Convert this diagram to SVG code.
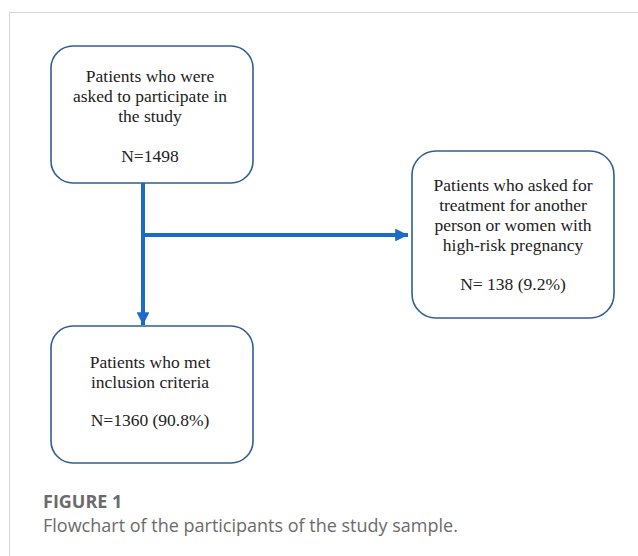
<svg xmlns="http://www.w3.org/2000/svg" width="638" height="556" viewBox="0 0 638 556">
<style>
.box{fill:#fff;stroke:#2f5f96;stroke-width:1.6}
.t{font-family:"Liberation Serif","Times New Roman",serif;font-size:17.5px;fill:#222;text-anchor:middle}
.c{stroke:#1a6cc8;stroke-width:4;fill:none}
.cap{font-family:"Open Sans","Noto Sans",sans-serif;fill:#6b6b6b}
</style>
<defs>
<marker id="ah" viewBox="0 0 10 10" refX="10" refY="5" markerWidth="3.2" markerHeight="3.2" orient="auto" markerUnits="strokeWidth">
<path d="M0,0L10,5L0,10z" fill="#1a6cc8"/>
</marker>
</defs>
<rect width="638" height="556" fill="#fff"/>
<path d="M9.5,556V12.5H638" fill="none" stroke="#d6d6d6" stroke-width="1"/>
<g id="connectors">
<path class="c" d="M143,183V325" marker-end="url(#ah)"/>
<path class="c" d="M143,235H408" marker-end="url(#ah)"/>
</g>
<g id="n1">
<rect class="box" x="51" y="46" width="202" height="137" rx="22"/>
<text class="t" x="150" y="82">Patients who were</text>
<text class="t" x="150" y="102">asked to participate in</text>
<text class="t" x="150" y="122">the study</text>
<text class="t" x="150" y="162">N=1498</text>
</g>
<g id="n2">
<rect class="box" x="412" y="151" width="202" height="167" rx="24"/>
<text class="t" x="513" y="191">Patients who asked for</text>
<text class="t" x="513" y="211">treatment for another</text>
<text class="t" x="513" y="231">person or women with</text>
<text class="t" x="513" y="251">high-risk pregnancy</text>
<text class="t" x="513" y="290">N= 138 (9.2%)</text>
</g>
<g id="n3">
<rect class="box" x="51" y="326" width="202" height="137" rx="22"/>
<text class="t" x="150" y="368">Patients who met</text>
<text class="t" x="150" y="388">inclusion criteria</text>
<text class="t" x="150" y="426">N=1360 (90.8%)</text>
</g>
<text class="cap" x="43" y="508" font-size="18" font-weight="bold">FIGURE 1</text>
<text class="cap" x="43" y="532" font-size="18">Flowchart of the participants of the study sample.</text>
</svg>
